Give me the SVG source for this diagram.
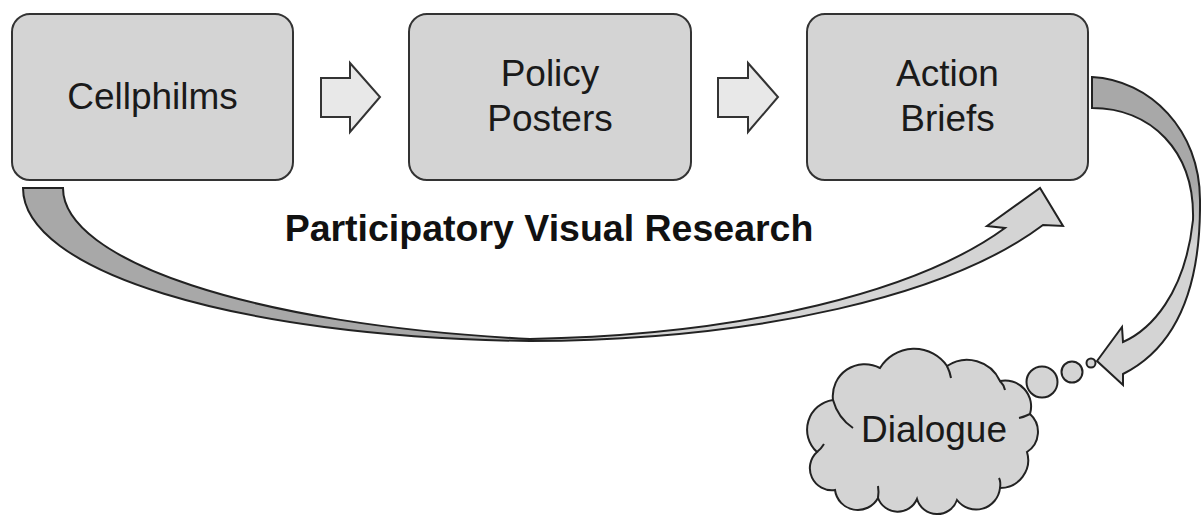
<svg xmlns="http://www.w3.org/2000/svg" width="1201" height="516" viewBox="0 0 1201 516">
  <defs>
    <style>
      .box { fill: #d4d4d4; stroke: #333; stroke-width: 2; }
      .lbl { font-family: "Liberation Sans", Arial, sans-serif; font-size: 37px; fill: #1a1a1a; text-anchor: middle; }
      .title { font-family: "Liberation Sans", Arial, sans-serif; font-size: 37.5px; font-weight: bold; fill: #111; text-anchor: middle; }
      .flat { fill: #e8e8e8; stroke: #333; stroke-width: 2; stroke-linejoin: miter; }
      .curve { stroke: #222; stroke-width: 2; stroke-linejoin: miter; }
      .cloud { fill: #d4d4d4; stroke: #222; stroke-width: 2; }
      .curl { fill: none; stroke: #222; stroke-width: 2; }
    </style>
    <linearGradient id="gA" gradientUnits="userSpaceOnUse" x1="23" y1="0" x2="1063" y2="0">
      <stop offset="0" stop-color="#a8a8a8"/>
      <stop offset="0.42" stop-color="#a8a8a8"/>
      <stop offset="0.58" stop-color="#d4d4d4"/>
      <stop offset="1" stop-color="#d4d4d4"/>
    </linearGradient>
    <linearGradient id="gB" gradientUnits="userSpaceOnUse" x1="0" y1="77" x2="0" y2="384">
      <stop offset="0" stop-color="#a8a8a8"/>
      <stop offset="0.35" stop-color="#a8a8a8"/>
      <stop offset="0.55" stop-color="#d4d4d4"/>
      <stop offset="1" stop-color="#d4d4d4"/>
    </linearGradient>
  </defs>
  <rect width="1201" height="516" fill="#fff"/>

  <g id="connectors">
    <path class="flat" d="M321,78 L350,78 L350,63 L380,97 L350,132 L350,117 L321,117 Z"/>
    <path class="flat" d="M718,78 L748,78 L748,63 L778,97 L748,132 L748,117 L718,117 Z"/>
    <path class="curve" fill="url(#gA)" d="M23,188 L63,188 C63,260 250,325 530,339 C750,335 920,290 1005,228 L987,226 L1040,188 L1063,226 L1043,225 C950,295 760,340 530,341 C230,337 23,270 23,188 Z"/>
    <path class="curve" fill="url(#gB)" d="M1092,77 C1150,80 1200,130 1200,200 C1201,290 1175,348 1123,374 L1123,385 L1097,361 L1122,327 L1123,342 C1150,330 1185,295 1193,220 C1195,150 1150,108 1092,108 Z"/>
  </g>

  <g id="node-cellphilms">
    <rect class="box" x="12" y="14" width="281" height="166" rx="18"/>
    <text class="lbl" x="152.5" y="109">Cellphilms</text>
  </g>
  <g id="node-policy-posters">
    <rect class="box" x="409" y="14" width="282" height="166" rx="18"/>
    <text class="lbl" x="550" y="86">Policy</text>
    <text class="lbl" x="550" y="131">Posters</text>
  </g>
  <g id="node-action-briefs">
    <rect class="box" x="807" y="14" width="281" height="166" rx="18"/>
    <text class="lbl" x="947.5" y="86">Action</text>
    <text class="lbl" x="947.5" y="131">Briefs</text>
  </g>

  <g id="label-pvr">
    <text class="title" x="549" y="241">Participatory Visual Research</text>
  </g>

  <g id="node-dialogue">
    <circle class="cloud" cx="1091" cy="363" r="4.5"/>
    <circle class="cloud" cx="1072" cy="372" r="10.5"/>
    <circle class="cloud" cx="1042" cy="382" r="15.5"/>
    <path class="cloud" d="M833,400 A32 32 0 0 1 880,368 A40 40 0 0 1 947,366 A36 36 0 0 1 1000,381 A26 26 0 0 1 1030,414 A24 24 0 0 1 1027,452 A28 28 0 0 1 1000,488 A24 24 0 0 1 957,500 A21 21 0 0 1 917,499 A21 21 0 0 1 878,498 A23 23 0 0 1 835,490 A22 22 0 0 1 817,452 A30 30 0 0 1 833,400 Z"/>
    <path class="curl" d="M833,400 Q838,418 853,428"/>
    <path class="curl" d="M947,366 Q950,372 951,378"/>
    <path class="curl" d="M1000,381 Q1004,385 1005,390"/>
    <path class="curl" d="M1030,414 Q1024,417 1019,418"/>
    <path class="curl" d="M1000,488 Q1001,482 999,478"/>
    <path class="curl" d="M878,498 Q879,492 878,486"/>
    <path class="curl" d="M817,452 Q821,449 824,444"/>
    <text class="lbl" x="934" y="442">Dialogue</text>
  </g>
</svg>
